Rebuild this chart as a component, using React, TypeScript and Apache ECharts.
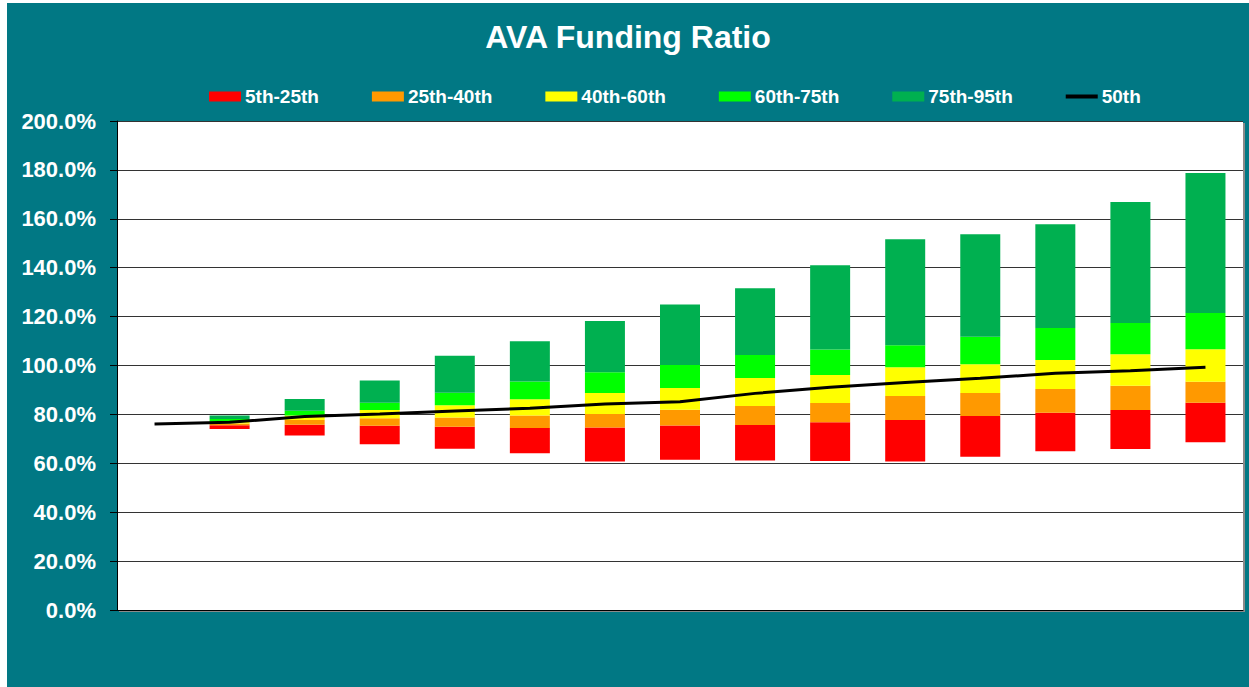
import React, { useEffect, useRef } from "react";
import * as echarts from "echarts";

const categories = ["1", "2", "3", "4", "5", "6", "7", "8", "9", "10", "11", "12", "13", "14", "15"];
const p5 = [null, 74.0, 71.4, 67.8, 66.0, 64.1, 60.7, 61.5, 61.1, 60.9, 60.7, 62.7, 64.9, 65.8, 68.6];
const p25 = [null, 75.6, 75.8, 75.4, 75.0, 74.4, 74.6, 75.5, 75.7, 76.8, 77.7, 79.3, 80.7, 81.8, 84.8];
const p40 = [null, 76.3, 77.7, 78.4, 78.7, 79.5, 80.2, 81.9, 83.4, 84.7, 87.5, 88.8, 90.4, 91.7, 93.4];
const p60 = [null, 77.0, 79.6, 81.8, 83.7, 86.2, 88.8, 90.8, 94.9, 96.1, 99.3, 100.5, 102.2, 104.6, 106.6];
const p75 = [null, 78.1, 81.5, 84.8, 88.9, 93.5, 97.2, 100.2, 104.3, 106.5, 108.3, 111.8, 115.3, 117.4, 121.5];
const p95 = [null, 79.5, 86.3, 93.9, 104.0, 109.9, 118.2, 125.0, 131.6, 141.0, 151.6, 153.7, 157.8, 166.9, 178.7];
const p50 = [76.1, 76.8, 79.1, 80.2, 81.4, 82.5, 84.3, 85.2, 88.6, 91.1, 93.0, 94.8, 96.8, 97.9, 99.3];

const bandNames = ["5th-25th", "25th-40th", "40th-60th", "60th-75th", "75th-95th"];
const bandColors = ["#FF0000", "#FF9900", "#FFFF00", "#00FF00", "#00B050"];
const lineName = "50th";

const FONT = "'Liberation Sans', Arial, sans-serif";

function diff(hi: (number | null)[], lo: (number | null)[]) {
  return hi.map((v, i) => (v == null || lo[i] == null ? null : +(v - (lo[i] as number)).toFixed(2)));
}

export default function App() {
  const ref = useRef<HTMLDivElement>(null);
  useEffect(() => {
    if (!ref.current) return;
    const chart = echarts.init(ref.current, undefined, { renderer: "svg" });
    const bounds = [p5, p25, p40, p60, p75, p95];
    const bandSeries = bandNames.map((name, i) => ({
      name,
      type: "bar",
      stack: "bands",
      barWidth: 40,
      itemStyle: { color: bandColors[i] },
      data: diff(bounds[i + 1], bounds[i]),
    }));
    chart.setOption({
      animation: false,
      backgroundColor: "#017884",
      title: {
        text: "AVA Funding Ratio",
        left: "center",
        top: 13,
        textStyle: { color: "#FFFFFF", fontSize: 32, fontWeight: "bold", fontFamily: FONT },
      },
      legend: {
        left: 202,
        top: 84,
        padding: 0,
        itemGap: 53,
        itemWidth: 32,
        itemHeight: 10,
        itemStyle: { borderWidth: 0 },
        textStyle: { color: "#FFFFFF", fontSize: 19, fontWeight: "bold", fontFamily: FONT, padding: [0, 0, 0, -1] },
        data: [
          ...bandNames.map((n) => ({ name: n, icon: "rect" })),
          { name: lineName, icon: "path://M0,0 H34 V4 H0 Z" },
        ],
      },
      grid: {
        left: 110,
        right: 6,
        top: 118,
        bottom: 77,
        show: true,
        backgroundColor: "#FFFFFF",
        borderWidth: 0,
        shadowColor: "#8a8a8a",
        shadowOffsetX: 2,
        shadowOffsetY: 2,
        shadowBlur: 0,
      },
      xAxis: {
        type: "category",
        data: categories,
        boundaryGap: true,
        axisLine: { show: true, lineStyle: { color: "#000000", width: 1 } },
        axisTick: { show: false },
        axisLabel: { show: false },
      },
      yAxis: {
        type: "value",
        min: 0,
        max: 200,
        interval: 20,
        axisLine: { show: true, lineStyle: { color: "#000000", width: 1 } },
        axisTick: { show: true, length: 7, lineStyle: { color: "#000000" } },
        axisLabel: {
          color: "#FFFFFF",
          fontSize: 22,
          fontWeight: "bold",
          fontFamily: FONT,
          margin: 21,
          formatter: (v: number) => v.toFixed(1) + "%",
        },
        splitLine: { show: true, lineStyle: { color: "#333333", width: 1 } },
      },
      series: [
        {
          name: "base",
          type: "bar",
          stack: "bands",
          barWidth: 40,
          itemStyle: { color: "transparent" },
          emphasis: { disabled: true },
          data: p5,
        },
        ...bandSeries,
        {
          name: lineName,
          type: "line",
          data: p50,
          symbol: "none",
          z: 5,
          itemStyle: { color: "#000000" },
          lineStyle: { color: "#000000", width: 3 },
        },
      ],
    });
    return () => chart.dispose();
  }, []);
  return (
    <div
      ref={ref}
      style={{ position: "absolute", left: 7, top: 3, width: 1242, height: 684 }}
    />
  );
}
